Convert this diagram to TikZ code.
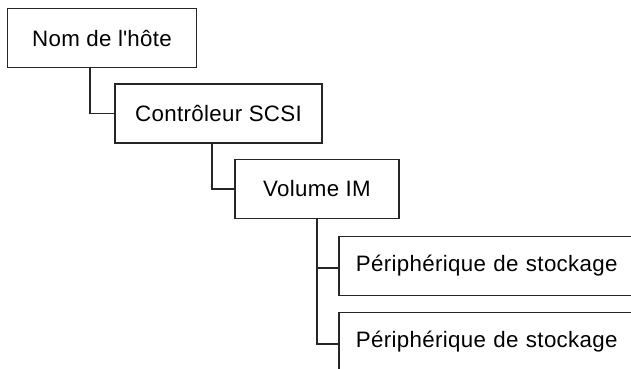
\documentclass[tikz,border=0pt]{standalone}
\usepackage{fontspec}
\setmainfont[LetterSpace=1.5]{Liberation Sans}
\usepackage{tikz}
\def\boxht{59pt}

\begin{document}
\begin{tikzpicture}[x=1pt,y=-1pt,draw=black!85,line width=1.8pt]
    \tikzstyle{level box}=[rectangle,draw,minimum height=\boxht,inner sep=0pt,
        font=\fontsize{22.3}{25}\selectfont]
    \tikzstyle{leaf box}=[level box,anchor=west,text width=276pt,align=left,inner xsep=17pt]
    \tikzstyle{link}=[line width=1.8pt]

    \useasboundingbox (0,0) rectangle (631,368);
    \clip (0,0) rectangle (631,368);

    % Draw the chain of boxes
    \node[level box, minimum width=189pt] (host) at (102,38) {Nom de l\textquotesingle hôte};
    \node[level box, minimum width=207pt] (ctrl) at (218.5,113.5) {Contrôleur SCSI};
    \node[level box, minimum width=164pt] (vol) at (317,189) {Volume IM};

    % Draw the storage devices
    \foreach \name / \y in {1/266,2/342}
        \node[leaf box] (dev-\name) at (338,\y) {Périphérique de stockage};

    % Connect each box to the one below it
    \draw[link] ([xshift=-12pt]host.south) |- (ctrl.west);
    \draw[link] ([xshift=-6.5pt]ctrl.south) |- (vol.west);
    \foreach \name in {1,2}
        \draw[link] (vol.south) |- ([yshift=-2pt]dev-\name.west);
\end{tikzpicture}
\end{document}
